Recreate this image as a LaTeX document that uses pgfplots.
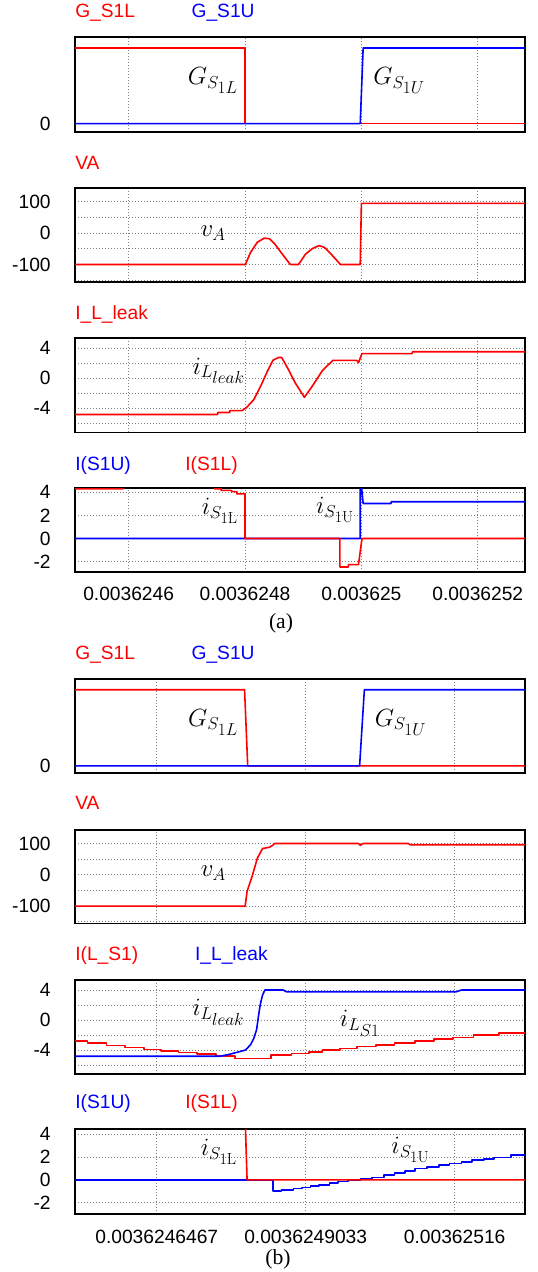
\documentclass[border=0pt]{standalone}
\usepackage{fontspec}
\usepackage{pgfplots}
\pgfplotsset{compat=1.18}
\newfontfamily\arial{Liberation Sans}
\newfontfamily\timesf{Liberation Serif}
\DeclareMathSizes{23}{23}{19}{16}
\definecolor{sred}{RGB}{255,0,0}
\definecolor{sblue}{RGB}{0,0,255}
\newcommand\lab{\arial\fontsize{19.2}{23}\selectfont}
\newcommand\mlab{\fontsize{23}{27}\selectfont}
\pgfplotsset{
  panel/.style={
    scale only axis, width=449.8pt, anchor=north west,
    line width=1.7pt,
    axis line style={line width=1.7pt, black},
    major tick length=0pt, minor tick length=0pt,
    grid style={gray, dash pattern=on 1pt off 2pt, line width=0.9pt},
    minor grid style={gray, dash pattern=on 1pt off 2pt, line width=0.9pt},
    xmajorgrids,
    ticklabel style={font=\lab, inner sep=1pt},
    yticklabel style={xshift=-22.6pt},
    xticklabel style={yshift=-12.7pt},
    every axis plot/.append style={line width=1.6pt, line join=round},
  },
  pa/.style={panel, xmin=5.08, xmax=12.81, xtick={6,8,10,12}, xticklabels={}},
  pb/.style={panel, xmin=5.06, xmax=12.81, xtick={6.467,9.033,11.6}, xticklabels={}},
  gate/.style={ytick={0}, yticklabels={0}},
  volt/.style={ymin=-155, ymax=144, ytick={-100,0,100}, yticklabels={-100,0,100},
    minor ytick={-150,-50,50}, ymajorgrids, yminorgrids},
  ileak/.style={ymin=-7.2, ymax=5.37, ytick={-4,0,4}, yticklabels={-4,0,4},
    minor ytick={-6,-2,2}, ymajorgrids, yminorgrids},
  isw/.style={ytick={-2,0,2,4}, yticklabels={-2,0,2,4}, ymajorgrids},
}
\begin{document}
\begin{tikzpicture}
\path[use as bounding box] (0pt,0pt) rectangle (538pt,-1272pt);

% ---------------- (a) ----------------
\node[anchor=base west, inner sep=0pt, text=sred, font=\lab] at (75.1pt,-17.8pt) {G\_S1L};
\node[anchor=base west, inner sep=0pt, text=sblue, font=\lab] at (191.4pt,-17.8pt) {G\_S1U};
\begin{axis}[pa, gate, at={(75.1pt,-37pt)}, height=95pt, ymin=-0.11, ymax=1.146]
\addplot[sred] coordinates {(5,1) (8.0,1) (8.0,0) (13,0)};
\addplot[sblue] coordinates {(5,0) (9.98,0) (10.03,1) (13,1)};
\node[font=\mlab] at (axis cs:7.45,0.57) {$G_{S_{1L}}$};
\node[font=\mlab] at (axis cs:10.65,0.57) {$G_{S_{1U}}$};
\end{axis}

\node[anchor=base west, inner sep=0pt, text=sred, font=\lab] at (75.1pt,-169.2pt) {VA};
\begin{axis}[pa, volt, at={(75.1pt,-188pt)}, height=93.7pt]
\addplot[sred] coordinates {(5,-100) (8.006,-100) (8.094,-62) (8.212,-29) (8.33,-16) (8.42,-18) (8.51,-34) (8.62,-62) (8.77,-98) (8.78,-100) (8.92,-100) (9.04,-67) (9.16,-49) (9.27,-40) (9.36,-45) (9.48,-67) (9.63,-98) (9.64,-100) (9.98,-100) (10.0,95) (13,95)};
\node[font=\mlab] at (axis cs:7.45,0) {$v_A$};
\end{axis}

\node[anchor=base west, inner sep=0pt, text=sred, font=\lab] at (75.1pt,-319.8pt) {I\_L\_leak};
\begin{axis}[pa, ileak, at={(75.1pt,-338pt)}, height=94.4pt]
\addplot[sred] coordinates {(5,-4.82) (7.53,-4.82) (7.53,-4.55) (7.74,-4.55) (7.74,-4.3) (7.95,-4.3) (8.03,-3.85) (8.15,-2.85) (8.27,-1.02) (8.39,1.03) (8.48,2.4) (8.57,2.77) (8.63,2.77) (8.74,1.26) (8.86,-0.57) (9.02,-2.53) (9.16,-1.0) (9.33,1.03) (9.51,2.4) (9.92,2.4) (9.95,2.08) (10.01,3.3) (10.87,3.3) (10.88,3.54) (13,3.54)};
\node[font=\mlab] at (axis cs:7.55,1.0) {$i_{L_{leak}}$};
\end{axis}

\node[anchor=base west, inner sep=0pt, text=sblue, font=\lab] at (75.1pt,-470.2pt) {I(S1U)};
\node[anchor=base west, inner sep=0pt, text=sred, font=\lab] at (185.2pt,-470.2pt) {I(S1L)};
\begin{axis}[pa, isw, at={(75.1pt,-488pt)}, height=84.1pt, ymin=-2.9, ymax=4.36,
  xticklabels={0.0036246,0.0036248,0.003625,0.0036252}]
\addplot[sblue] coordinates {(5,0) (9.98,0) (9.98,4.6) (10.0,4.6) (10.03,3.02) (10.51,3.02) (10.51,3.17) (13,3.17)};
\addplot[sred] coordinates {(5,4.3) (5.91,4.3) (5.91,4.6) (7.475,4.6) (7.475,4.3) (7.59,4.3) (7.59,4.15) (7.77,4.15) (7.77,4.05) (7.86,4.05) (7.86,3.85) (8.0,3.85) (8.0,0) (9.63,0) (9.63,-2.46) (9.776,-2.46) (9.776,-2.25) (9.95,-2.25) (10.01,0) (13,0)};
\node[font=\mlab] at (axis cs:7.57,2.4) {$i_{S_{\mathrm{1L}}}$};
\node[font=\mlab] at (axis cs:9.55,2.45) {$i_{S_{\mathrm{1U}}}$};
\end{axis}
\node[inner sep=0pt, font=\timesf\fontsize{21.6}{25}\selectfont] at (281pt,-623.5pt) {(a)};

% ---------------- (b) ----------------
\node[anchor=base west, inner sep=0pt, text=sred, font=\lab] at (75.1pt,-659.9pt) {G\_S1L};
\node[anchor=base west, inner sep=0pt, text=sblue, font=\lab] at (191.4pt,-659.9pt) {G\_S1U};
\begin{axis}[pb, gate, at={(75.1pt,-678.8pt)}, height=94pt, ymin=-0.09, ymax=1.143]
\addplot[sred] coordinates {(5,1) (7.98,1) (8.034,0) (13,0)};
\addplot[sblue] coordinates {(5,0) (9.962,0) (10.044,1) (13,1)};
\node[font=\mlab] at (axis cs:7.44,0.57) {$G_{S_{1L}}$};
\node[font=\mlab] at (axis cs:10.67,0.57) {$G_{S_{1U}}$};
\end{axis}

\node[anchor=base west, inner sep=0pt, text=sred, font=\lab] at (75.1pt,-809.2pt) {VA};
\begin{axis}[pb, volt, at={(75.1pt,-829.7pt)}, height=93.7pt]
\addplot[sred] coordinates {(5,-100) (7.99,-100) (8.023,-53) (8.111,-4) (8.20,53) (8.29,84) (8.407,88) (8.466,94) (8.495,100) (9.944,100) (9.974,94) (10.02,100) (10.8,100) (10.83,96) (13,96)};
\node[font=\mlab] at (axis cs:7.44,5) {$v_A$};
\end{axis}

\node[anchor=base west, inner sep=0pt, text=sred, font=\lab] at (75.1pt,-960.2pt) {I(L\_S1)};
\node[anchor=base west, inner sep=0pt, text=sblue, font=\lab] at (194.9pt,-960.2pt) {I\_L\_leak};
\begin{axis}[pb, ileak, at={(75.1pt,-979.7pt)}, height=94.4pt]
\addplot[sred, const plot mark left] coordinates {(5.0,-2.77) (5.273,-3.09) (5.598,-3.4) (5.924,-3.68) (6.249,-3.9) (6.545,-4.09) (6.840,-4.32) (7.165,-4.55) (7.490,-4.78) (7.816,-5.1) (8.436,-4.69) (8.791,-4.46) (9.087,-4.23) (9.323,-4.0) (9.619,-3.77) (9.914,-3.54) (10.24,-3.31) (10.565,-3.09) (10.919,-2.81) (11.245,-2.54) (11.57,-2.31) (11.925,-2.03) (12.368,-1.71) (13,-1.71)};
\addplot[sblue] coordinates {(5,-4.82) (7.55,-4.82) (7.70,-4.6) (7.85,-4.3) (7.993,-4.0) (8.023,-3.77) (8.082,-3.3) (8.141,-2.4) (8.188,-1.26) (8.212,0.11) (8.247,1.94) (8.289,3.31) (8.330,4.0) (8.643,4.0) (8.702,3.77) (11.629,3.77) (11.718,4.0) (13,4.0)};
\node[font=\mlab] at (axis cs:7.53,1.03) {$i_{L_{leak}}$};
\node[font=\mlab] at (axis cs:9.97,-0.43) {$i_{L_{S1}}$};
\end{axis}

\node[anchor=base west, inner sep=0pt, text=sblue, font=\lab] at (75.1pt,-1108.5pt) {I(S1U)};
\node[anchor=base west, inner sep=0pt, text=sred, font=\lab] at (185.2pt,-1108.5pt) {I(S1L)};
\begin{axis}[pb, isw, at={(75.1pt,-1129.2pt)}, height=84.7pt, ymin=-3.0, ymax=4.45,
  xticklabels={0.0036246467,0.0036249033,0.00362516}, xticklabel style={yshift=-1.7pt}]
\addplot[sblue, const plot mark left] coordinates {(5,0) (8.466,-0.98) (8.614,-0.89) (8.821,-0.77) (8.968,-0.68) (9.116,-0.53) (9.264,-0.44) (9.441,-0.30) (9.589,-0.15) (9.766,-0.05) (9.974,0.05) (10.18,0.22) (10.387,0.42) (10.565,0.6) (10.742,0.76) (10.919,0.98) (11.126,1.12) (11.333,1.28) (11.511,1.43) (11.718,1.58) (11.895,1.73) (12.102,1.82) (12.279,1.95) (12.575,2.19) (13,2.19)};
\addplot[sred] coordinates {(5,5) (7.993,5) (8.023,0) (13,0)};
\node[font=\mlab] at (axis cs:7.54,2.49) {$i_{S_{\mathrm{1L}}}$};
\node[font=\mlab] at (axis cs:10.84,2.64) {$i_{S_{\mathrm{1U}}}$};
\end{axis}
\node[inner sep=0pt, font=\timesf\fontsize{21.6}{25}\selectfont] at (278pt,-1259.5pt) {(b)};
\end{tikzpicture}
\end{document}
